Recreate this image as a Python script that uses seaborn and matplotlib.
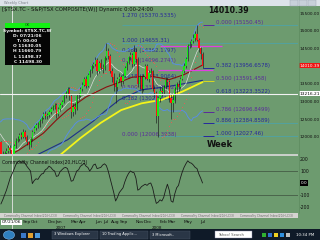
import numpy as np
import pandas as pd
import matplotlib
matplotlib.use("Agg")
import matplotlib.pyplot as plt
import matplotlib.transforms as mtrans
from matplotlib.patches import Rectangle, Circle
import seaborn as sns

# ---------------- data ----------------
first_week = -26          # week index of first close (0 = 07/21/06)
closes = [11650, 11800, 11900, 11700, 11850, 12000, 11950, 11900, 12100, 12050,
          12110, 12200, 12250, 12300, 12200, 12400, 12200, 11800, 11900, 11850,
          11500, 11350, 11550, 11610, 11700, 11630,
          11498, 11750, 11900, 11950, 12050, 12000, 12150, 12000, 11850, 11780,
          11950, 12150, 12250, 12350, 12330, 12450, 12550, 12650, 12600, 12620,
          12700, 12800, 12850, 12900, 12650, 12780, 12900, 12980, 13150, 13250,
          13350, 13150, 12700, 12850, 12800, 13150, 13170, 13350, 13480, 13650,
          13450, 13750, 13850, 14000, 14050, 14180, 13850, 14100, 13950, 13920,
          14220, 14420, 14300, 13850, 13700, 13500, 13420, 13650, 13700, 13580,
          13720, 13950, 14100, 14250, 14320, 14050, 14400, 14200, 13500, 13680,
          13350, 13700, 14000, 13650, 13800, 13850, 13350, 13250, 12600, 13100,
          13300, 13280, 13400, 13600, 13550, 13100, 12950, 13050, 13350, 13500,
          13400, 13650, 13850, 14000, 14200, 14580, 14620, 14710, 14800, 14900,
          14750, 14500, 14350, 14010.39]
vis_first = -6
highs = [11900, 11600, 11600, 11700, 11760, 11780,
         11661, 11800, 11960, 12020, 12120, 12130, 12220, 12200, 12060, 11900,
         12000, 12190, 12300, 12400, 12420, 12500, 12600, 12700, 12720, 12680,
         12760, 12850, 12900, 12950, 12950, 12850, 12950, 13050, 13200, 13300,
         13420, 13400, 13200, 12950, 12950, 13200, 13250, 13400, 13550, 13700,
         13720, 13800, 13920, 14050, 14120, 14250, 14220, 14150, 14200, 14050,
         14280, 14655, 14500, 14350, 13950, 13800, 13600, 13700, 13800, 13760,
         13800, 14000, 14150, 14300, 14400, 14380, 14600, 14500, 14250, 13750,
         13750, 13780, 14050, 14050, 13880, 13950, 13900, 13450, 13300, 13150,
         13400, 13450, 13480, 13680, 13700, 13600, 13200, 13200, 13400, 13550,
         13600, 13700, 13900, 14080, 14250, 14620, 14700, 14780, 14900, 15000,
         15150, 14800, 14550, 14400]
lows = [11400, 11250, 11300, 11480, 11560, 11560,
        11498, 11450, 11700, 11850, 11900, 11930, 11960, 11950, 11780, 11650,
        11720, 11900, 12100, 12200, 12250, 12280, 12400, 12500, 12520, 12500,
        12560, 12650, 12750, 12800, 12550, 12600, 12730, 12850, 12950, 13100,
        13200, 13050, 12550, 12600, 12650, 12750, 13050, 13120, 13300, 13450,
        13380, 13420, 13700, 13800, 13950, 14000, 13750, 13800, 13880, 13800,
        13880, 14180, 14200, 13800, 13550, 13300, 12950, 13300, 13550, 13450,
        13500, 13680, 13900, 14050, 14180, 13980, 14000, 14100, 13400, 13350,
        13250, 13300, 13650, 13600, 13550, 13750, 13300, 13100, 12400, 12006,
        13000, 13150, 13200, 13350, 13450, 13000, 12500, 12700, 12950, 13250,
        13300, 13350, 13600, 13800, 13950, 14150, 14500, 14550, 14650, 14720,
        14700, 14400, 14200, 13950]

# moving averages (week, value)
red_ma_weeks = [-6, 0, 4, 10, 17, 24, 30, 40, 51, 57, 65, 75, 85, 93, 103]
red_ma_vals = [11420, 11520, 11640, 11850, 12110, 12480, 12760, 13130, 13410, 13520, 13690, 13720, 13620, 13760, 14030]
blue_ma_weeks = [-6, 11, 30, 44, 50, 58, 70, 85, 103]
blue_ma_vals = [11200, 11430, 11920, 12450, 12720, 13050, 13330, 13430, 13600]
yellow_ma_weeks = [20, 26, 37, 48, 59, 70, 81, 92, 103]
yellow_ma_vals = [11300, 11490, 11970, 12400, 12760, 12950, 13050, 13280, 13550]

# CCI(20)
cci_vals = [-175, -140, -100, -60, -10, 40,
            75, 110, 150, 175, 185, 170, 180, 165, 140, 120,
            100, -5, 20, 35, 30, 55, 75, 80, 110, 120,
            140, 130, 110, 100, 55, 60, 95, 110, 125, 130,
            120, 70, 15, 20, 60, 100, 110, 140, 150, 165,
            140, 130, 100, 120, 150, 158, 120, 125, 130, 150,
            160, 145, 100, 40, -20, -80, -150, -120, -80, -60,
            -40, 10, 50, 80, 100, 90, 85, 40, -60, -50,
            -30, -20, -10, -20, -5, 0, -40, -110, -170, -160,
            -140, -150, -120, -60, -10, -60, -150, -160, -90, -40,
            -20, 40, 90, 130, 160, 185, 170, 165, 150, 130,
            120, 75, 40, 0]

# Fibonacci levels
fib_left_levels = ["1.270", "1.000", "0.886", "0.786", "0.618", "0.500", "0.382", "0.000"]
fib_left_vals = [15370.5335, 14655.31, 14362.1797, 14096.2741, 13643.9064, 13331.8502, 13022.6196, 12006.3938]
fib_right_levels = ["0.000", "0.382", "0.500", "0.618", "0.786", "0.886", "1.000"]
fib_right_vals = [15150.45, 13956.6578, 13591.458, 13223.3522, 12696.8499, 12384.8589, 12027.46]
pivot_vals = [14570, 13890]
last_price = 14010.39
cross_price = 13216.21

price_ticks = [15500, 15000, 14500, 14000, 13500, 13000, 12500, 12000]
cci_ticks = [200, 100, -100, -200]
months = ["Sep", "Oct", "Dec", "Jan", "Mar", "Apr", "Jun", "Jul", "Aug", "Sep", "Nov", "Dec", "Feb", "Mar", "May", "Jul"]
month_dates = ["2006-09-01", "2006-10-01", "2006-12-01", "2007-01-01", "2007-03-01", "2007-04-01",
               "2007-06-01", "2007-07-01", "2007-08-01", "2007-09-01", "2007-11-01", "2007-12-01",
               "2008-02-01", "2008-03-01", "2008-05-01", "2008-07-01"]
years = ["2007", "2008"]
year_dates = ["2007-01-01", "2008-01-01"]
start_date = "2006-07-21"

# ---------------- derived frames ----------------
weeks_all = np.arange(first_week, first_week + len(closes))
close_s = pd.Series(closes, index=weeks_all, dtype=float)
open_s = close_s.shift(1)
sma20 = close_s.rolling(20).mean()
sd20 = close_s.rolling(20).std(ddof=0)
sma10 = close_s.rolling(10).mean()
bands = pd.DataFrame({"week": weeks_all, "upper": sma20 + 2 * sd20,
                      "lower": sma20 - 2 * sd20, "sma10": sma10})
bands = bands[bands.week >= vis_first - 1]

vis_weeks = np.arange(vis_first, vis_first + len(highs))
df = pd.DataFrame({"week": vis_weeks,
                   "open": open_s.loc[vis_weeks].values,
                   "close": close_s.loc[vis_weeks].values,
                   "high": highs, "low": lows})


def psar(high, low, step=0.02, mx=0.2):
    n = len(high)
    out = np.zeros(n)
    up = True
    af = step
    ep = high[0]
    sar = low[0]
    out[0] = sar
    for k in range(1, n):
        sar = sar + af * (ep - sar)
        if up:
            sar = min(sar, low[k - 1], low[max(k - 2, 0)])
            if low[k] < sar:
                up, sar, ep, af = False, ep, low[k], step
            elif high[k] > ep:
                ep, af = high[k], min(af + step, mx)
        else:
            sar = max(sar, high[k - 1], high[max(k - 2, 0)])
            if high[k] > sar:
                up, sar, ep, af = True, ep, high[k], step
            elif low[k] < ep:
                ep, af = low[k], min(af + step, mx)
        out[k] = sar
    return out


sar_vals = psar(np.array(highs, float), np.array(lows, float))
t0 = pd.Timestamp(start_date)
def to_week(d):
    return (pd.Timestamp(d) - t0).days / 7.0

# ---------------- figure ----------------
W, H = 320, 240
BG = "#6d9b6f"
sns.set_theme(style="white", rc={"axes.facecolor": BG, "figure.facecolor": BG})
plt.rcParams["font.family"] = ["DejaVu Sans"]

def R(x0, y0, x1, y1):
    return [x0 / W, 1 - y1 / H, (x1 - x0) / W, (y1 - y0) / H]

def fx(x):
    return x / W

def fy(y):
    return 1 - y / H

fig = plt.figure(figsize=(3.2, 2.4), dpi=100, facecolor=BG)
XL = (-12 / 1.85, 286 / 1.85)

# main price panel
ax = fig.add_axes(R(0, 6, 298, 154))
ax.set_facecolor(BG)
ax.set_xlim(*XL)
ax.set_ylim(11520, 15698)
for s in ax.spines.values():
    s.set_visible(False)
ax.set_xticks([])
ax.yaxis.tick_right()
ax.set_yticks(price_ticks)
ax.set_yticklabels([f"{v:.2f}" for v in price_ticks])
ax.tick_params(axis="y", length=0, pad=1.0, labelsize=3.1, labelcolor="#111111")
ax.grid(False)

# teal fib lines
teal = "#4fa3a6"
ax.hlines(fib_right_vals[0], 59.5, XL[1], color=teal, lw=0.6, zorder=1)
ax.hlines(fib_left_vals[1], 59.5, XL[1], color=teal, lw=0.6, zorder=1)
ax.hlines(fib_right_vals[5], 103, XL[1], color=teal, lw=0.6, zorder=1)
ax.hlines(fib_right_vals[6], 79, XL[1], color=teal, lw=0.6, zorder=1)

# indicator lines
sns.lineplot(x=yellow_ma_weeks, y=yellow_ma_vals, ax=ax, color="#f4f41a", lw=1.3, zorder=2, legend=False)
sns.lineplot(x=blue_ma_weeks, y=blue_ma_vals, ax=ax, color="#1d2f8a", lw=0.8, zorder=2, legend=False)
sns.lineplot(x=red_ma_weeks, y=red_ma_vals, ax=ax, color="#8a1010", lw=0.8, zorder=2, legend=False)
sns.lineplot(data=bands, x="week", y="upper", ax=ax, color="#5a8ee0", lw=0.7, zorder=2, legend=False)
sns.lineplot(data=bands, x="week", y="lower", ax=ax, color="#5a8ee0", lw=0.7, zorder=2, legend=False)
sns.lineplot(data=bands, x="week", y="sma10", ax=ax, color="#dcdcdc", lw=0.5, zorder=2, legend=False)
ax.scatter(df.week, sar_vals, s=0.35, color="#ff5050", linewidths=0, zorder=3)

# magenta pivot lines
ax.hlines(pivot_vals[0], 80, 113.5, color="#e040e0", lw=0.9, zorder=3)
ax.hlines(pivot_vals[1], 79, 108.6, color="#e040e0", lw=0.9, zorder=3)

# fib labels
purple, blue = "#5a2a9c", "#26289c"
left_cols = [blue, blue, blue, purple, blue, purple, blue, purple]
for lv, v, c in zip(fib_left_levels, fib_left_vals, left_cols):
    ax.text(59.5, v, f"{lv} ({v:.4f})" if lv != "1.000" else f"{lv} ({v:.2f})",
            fontsize=3.9, color=c, va="bottom", ha="left", zorder=1)
right_cols = [purple, blue, purple, blue, purple, blue, blue]
stub_cols = [purple, blue, "#d8d820", "#c08a2a", purple, blue, blue]
for lv, v, c, sc in zip(fib_right_levels, fib_right_vals, right_cols, stub_cols):
    txt = f"{v:.2f}" if lv in ("0.000", "1.000") else (f"{v:.3f}" if lv == "0.500" else f"{v:.4f}")
    ax.text(110.3, v, f"{lv} ({txt})", fontsize=3.9, color=c, va="bottom", ha="left", zorder=1)
    ax.hlines(v, 103.5, 109, color=sc, lw=0.7, zorder=1)

# candles
up = df.close >= df.open
ax.vlines(df.week, df.low, df.high, color="#1a1a1a", lw=0.45, zorder=4)
body_lo = np.minimum(df.open, df.close)
body_h = np.maximum(np.abs(df.close - df.open), 8)
ax.bar(df.week, body_h, bottom=body_lo, width=0.72,
       color=np.where(up, "#18e818", "#ff1414"), linewidth=0, zorder=5)

# crosshair
ax.axhline(cross_price, color="#f2f2f2", lw=0.8, zorder=6)
ax.axvline(0, color="#f2f2f2", lw=0.6, zorder=6)

bt = mtrans.blended_transform_factory(ax.transAxes, ax.transData)
ax.text(1.005, last_price, f"{last_price:.2f}", transform=bt, fontsize=3.1, color="white",
        va="center", ha="left", bbox=dict(fc="#ee1111", ec="none", pad=0.4), clip_on=False, zorder=7)
ax.text(1.005, cross_price, f"{cross_price:.2f}", transform=bt, fontsize=3.1, color="black",
        va="center", ha="left", bbox=dict(fc="white", ec="none", pad=0.4), clip_on=False, zorder=7)

ax.text(0.695, 0.05, "Week", transform=ax.transAxes, fontsize=6, fontweight="bold", color="#111111")

# CCI panel
ax2 = fig.add_axes(R(0, 156, 298, 213))
ax2.set_facecolor(BG)
ax2.set_xlim(*XL)
ax2.set_ylim(-250, 225)
for s in ax2.spines.values():
    s.set_visible(False)
ax2.set_xticks([])
ax2.yaxis.tick_right()
ax2.set_yticks(cci_ticks)
ax2.set_yticklabels([str(v) for v in cci_ticks])
ax2.tick_params(axis="y", length=0, pad=1.5, labelsize=3.3, labelcolor="#111111")
ax2.grid(False)
ax2.axhline(100, color="#3d4f3e", lw=0.5)
ax2.axhline(-100, color="#3d4f3e", lw=0.5)
ax2.axvline(0, color="#e6e6e6", lw=0.6)
sns.lineplot(x=vis_weeks, y=cci_vals, ax=ax2, color="#1c1c1c", lw=0.6, legend=False)
ax2.set_xlabel("")
ax2.set_ylabel("")
ax.set_xlabel("")
ax.set_ylabel("")
bt2 = mtrans.blended_transform_factory(ax2.transAxes, ax2.transData)
ax2.text(1.01, 0, f"{cci_vals[-1]:.0f}.0", transform=bt2, fontsize=3.1, color="white", va="center",
         ha="left", bbox=dict(fc="black", ec="none", pad=0.5), clip_on=False)
ax2.text(0.006, 0.93, "Commodity Channel Index(20,HLC/3)", transform=ax2.transAxes,
         fontsize=3.3, color="#111111", va="top")

# separators / chrome
fig.patches.append(Rectangle((0, fy(156)), fx(298), 2 / H, transform=fig.transFigure,
                             fc="#c9cfc9", ec="none"))
fig.lines.append(plt.Line2D([fx(298.5)] * 2, [fy(6), fy(213)], transform=fig.transFigure,
                            color="#5c8a5e", lw=0.5))
# title bar
fig.patches.append(Rectangle((0, fy(6)), 1, 6 / H, transform=fig.transFigure, fc="#dde3ea", ec="none"))
fig.text(fx(4), fy(3), "Weekly Chart", fontsize=2.6, color="#7a8088", va="center")
for bx in [290, 299, 308]:
    fig.patches.append(Rectangle((fx(bx), fy(5.5)), 8 / W, 5 / H, transform=fig.transFigure,
                                 fc="#c8d0da", ec="#9aa4b0", lw=0.3))
fig.text(fx(2), fy(9.5), r"[\$TSX.TC - S&P/TSX COMPOSITE(W)] Dynamic 0:00-24:00",
         fontsize=3.8, color="#111111", va="center")
fig.text(fx(208), fy(10.5), f"{last_price:.2f}", fontsize=5.6, fontweight="bold", color="#111111", va="center")

# info box
fig.patches.append(Rectangle((fx(5), fy(65)), 45 / W, 42 / H, transform=fig.transFigure, fc="#050505", ec="none"))
fig.patches.append(Rectangle((fx(5), fy(27.5)), 45 / W, 4.5 / H, transform=fig.transFigure, fc="#12f012", ec="none"))
fig.text(fx(27.5), fy(25.3), "OK", fontsize=2.6, color="#114411", ha="center", va="center")
info = ["Symbol: $TSX.TC,W", "D: 07/21/06", "T: 00:00", "O 11630.05", "H 11660.79", "L 11498.37", "C 11498.30"]
for k, line in enumerate(info):
    fig.text(fx(27.5), fy(31 + 5.1 * k), line.replace("$", r"\$"), fontsize=3.2, color="#f4f4f4",
             ha="center", va="center", fontweight="bold")

# tab strip
fig.patches.append(Rectangle((0, fy(218)), fx(298), 5 / H, transform=fig.transFigure, fc="#d4d4d0", ec="none"))
for tx in [4, 63, 122, 181, 240]:
    fig.text(fx(tx), fy(215.6), "Commodity Channel Index(20,HLC/3)", fontsize=2.1,
             color="#666666", va="center")

# date axis
axd = fig.add_axes(R(0, 218, 298, 229))
axd.set_xlim(*XL)
axd.set_ylim(0, 1)
axd.axis("off")
axd.axvline(0, color="#e6e6e6", lw=0.6)
for m, d in zip(months, month_dates):
    axd.text(to_week(d), 0.62, m, fontsize=3.2, color="#111111", ha="left", va="center")
for yv, d in zip(years, year_dates):
    axd.text(to_week(d), 0.1, yv, fontsize=3.0, color="#111111", ha="left", va="center")
axd.text(-5.6, 0.62, "07/21/06", fontsize=3.2, color="#111111", ha="left", va="center",
         bbox=dict(fc="white", ec="none", pad=0.4))

# taskbar
fig.patches.append(Rectangle((0, 0), 1, 11 / H, transform=fig.transFigure, fc="#0f1a28", ec="none"))
fig.patches.append(Circle((fx(9), fy(235)), 4.2 / H, transform=fig.transFigure, fc="#2f7fbf", ec="#9fd0ff", lw=0.3))
for ix, ic in zip([21, 28, 35], ["#3a78c8", "#e0a030", "#4a9adf"]):
    fig.patches.append(Rectangle((fx(ix), fy(238)), 5 / W, 5 / H, transform=fig.transFigure, fc=ic, ec="none"))
for (x0, x1, label) in [(52, 98, "3 Windows Explorer"), (100, 148, "10 Trading Applic..."),
                         (150, 190, "3 Microsoft..")]:
    fig.patches.append(Rectangle((fx(x0), fy(238.5)), (x1 - x0) / W, 8 / H, transform=fig.transFigure,
                                 fc="#2a3646", ec="#4a5666", lw=0.3))
    fig.text(fx(x0 + 2), fy(234.5), label, fontsize=2.6, color="white", va="center")
fig.patches.append(Rectangle((fx(215), fy(238)), 37 / W, 7 / H, transform=fig.transFigure, fc="white", ec="#88a", lw=0.3))
fig.text(fx(218), fy(234.5), "Yahoo! Search", fontsize=2.6, color="#555555", va="center")
for ix, ic in zip([262, 268, 274, 280, 286], ["#30b030", "#3070d0", "#f0d020", "#3090e0", "#c0c0c0"]):
    fig.patches.append(Rectangle((fx(ix), fy(237)), 4 / W, 4 / H, transform=fig.transFigure, fc=ic, ec="none"))
fig.text(fx(296), fy(234.5), "10:34 PM", fontsize=2.8, color="white", va="center")

fig.savefig("out.png", dpi=100, facecolor=BG)
